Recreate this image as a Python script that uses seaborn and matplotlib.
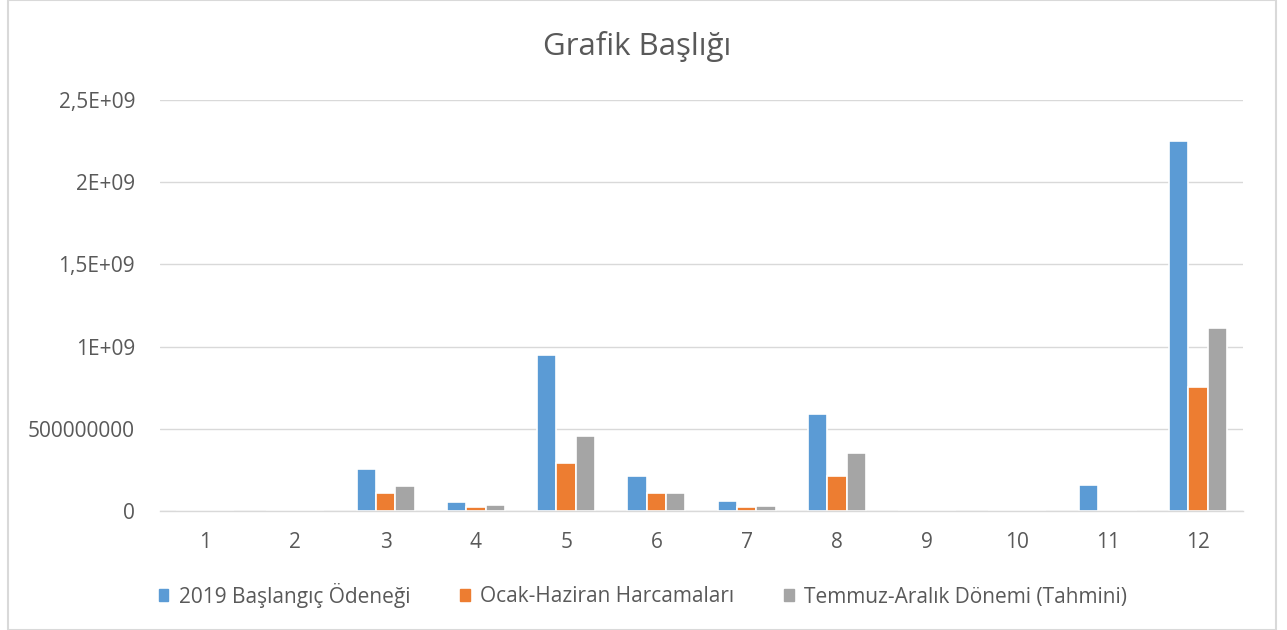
import matplotlib
matplotlib.use("Agg")
import matplotlib.pyplot as plt
import seaborn as sns
import pandas as pd
from matplotlib.patches import Rectangle

categories = ["1", "2", "3", "4", "5", "6", "7", "8", "9", "10", "11", "12"]
baslangic = [0, 0, 255e6, 55e6, 949e6, 213e6, 61e6, 590e6, 0, 0, 158e6, 2252e6]
ocak_haziran = [0, 0, 110e6, 24e6, 292e6, 107e6, 26e6, 213e6, 0, 0, 0, 756e6]
temmuz_aralik = [0, 0, 152e6, 36e6, 456e6, 107e6, 30e6, 353e6, 0, 0, 0, 1113e6]
series_names = ["2019 Başlangıç Ödeneği", "Ocak-Haziran Harcamaları", "Temmuz-Aralık Dönemi (Tahmini)"]
colors = ["#5B9BD5", "#ED7D31", "#A5A5A5"]
yticks = [0, 5e8, 1e9, 1.5e9, 2e9, 2.5e9]
ytick_labels = ["0", "500000000", "1E+09", "1,5E+09", "2E+09", "2,5E+09"]

rows = []
for name, vals in zip(series_names, [baslangic, ocak_haziran, temmuz_aralik]):
    for c, v in zip(categories, vals):
        rows.append({"cat": c, "seri": name, "val": v})
df = pd.DataFrame(rows)

sns.set_theme(style="white")
plt.rcParams["font.family"] = ["Open Sans", "DejaVu Sans"]
txt = "#595959"

fig = plt.figure(figsize=(12.87, 6.3), dpi=100)
ax = fig.add_axes([160 / 1287, 1 - 511 / 630, (1243 - 160) / 1287, (511 - 100) / 630])

sns.barplot(data=df, x="cat", y="val", hue="seri", order=categories, hue_order=series_names,
            palette=colors, width=0.64, saturation=1, ax=ax, linewidth=1.2, edgecolor="white",
            legend=True)

ax.set_ylim(0, 2.5e9)
ax.set_yticks(yticks)
ax.set_yticklabels(ytick_labels, color=txt, fontsize=15)
ax.tick_params(axis="x", colors=txt, labelsize=15, length=0, pad=15)
ax.tick_params(axis="y", length=0, pad=18)
ax.set_xlabel("")
ax.set_ylabel("")
ax.yaxis.grid(True, color="#D9D9D9", linewidth=1)
ax.set_axisbelow(True)
for s in ["top", "right", "left"]:
    ax.spines[s].set_visible(False)
ax.spines["bottom"].set_color("#D9D9D9")
ax.spines["bottom"].set_linewidth(1)

ax.legend_.remove()
handles = [Rectangle((0, 0), 1, 1, color=c) for c in colors]
fig.legend(handles, series_names, loc="center", bbox_to_anchor=(643 / 1287, 1 - 595 / 630), ncol=3,
           frameon=False, fontsize=15, labelcolor=txt, handlelength=0.45, handleheight=0.45,
           handletextpad=0.5, columnspacing=2.4)

fig.text(0.495, 1 - 46 / 630, "Grafik Başlığı", ha="center", va="center", fontsize=22.5, color=txt)

fig.patches.append(Rectangle((8 / 1287, 0), (1276 - 8) / 1287, 1, transform=fig.transFigure,
                             fill=False, edgecolor="#D9D9D9", linewidth=1.5))

fig.savefig("out.png", dpi=100)
